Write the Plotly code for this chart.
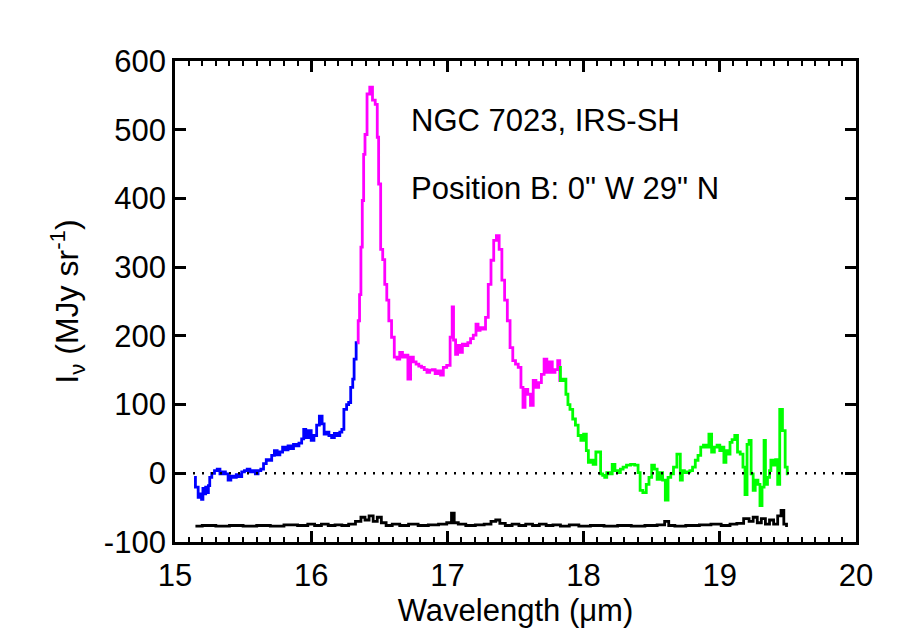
import plotly.graph_objects as go

# ---- data ----
blue_x = [15.14, 15.16, 15.18, 15.19, 15.20, 15.21, 15.22, 15.23, 15.24, 15.25, 15.26, 15.28, 15.30, 15.32,
          15.34, 15.36, 15.38, 15.40, 15.42, 15.44, 15.46, 15.48, 15.50, 15.52, 15.54, 15.56, 15.58, 15.60,
          15.62, 15.64, 15.66, 15.68, 15.70, 15.72, 15.74, 15.76, 15.78, 15.80, 15.82, 15.84, 15.86, 15.88,
          15.90, 15.92, 15.94, 15.95, 15.97, 15.99, 16.01, 16.03, 16.05, 16.07, 16.09, 16.10, 16.12, 16.14,
          16.16, 16.18, 16.20, 16.22, 16.23, 16.25, 16.27, 16.28, 16.30, 16.31, 16.32, 16.34]
blue_y = [-6, -20, -35, -30, -38, -22, -30, -20, -28, -18, -6, 0, 4, 6,
          -1, 2, -1, -10, -4, -6, -2, -5, 2, 4, 6, 2, 4, -1,
          4, 6, 14, 20, 19, 26, 33, 27, 31, 38, 34, 40, 36, 42,
          40, 44, 50, 64, 52, 62, 48, 55, 70, 83, 72, 57, 60, 55,
          52, 58, 55, 60, 64, 93, 100, 103, 125, 137, 166, 190]

mag_x = [16.34, 16.35, 16.36, 16.37, 16.38, 16.39, 16.40, 16.42, 16.44, 16.46, 16.48, 16.49, 16.50, 16.52,
         16.53, 16.55, 16.56, 16.58, 16.60, 16.62, 16.64, 16.66, 16.68, 16.70, 16.72, 16.74, 16.76, 16.78,
         16.80, 16.82, 16.84, 16.86, 16.88, 16.90, 16.92, 16.94, 16.96, 16.98, 17.01, 17.03, 17.04, 17.05,
         17.07, 17.08, 17.10, 17.12, 17.14, 17.16, 17.18, 17.20, 17.22, 17.23, 17.25, 17.27, 17.29, 17.31,
         17.33, 17.35, 17.37, 17.39, 17.41, 17.43, 17.45, 17.47, 17.49, 17.51, 17.53, 17.55, 17.56, 17.58,
         17.60, 17.62, 17.64, 17.66, 17.68, 17.70, 17.72, 17.74, 17.76, 17.78, 17.80, 17.82, 17.83]
mag_y = [190, 222, 260, 329, 397, 464, 493, 552, 562, 543, 537, 489, 421, 326,
         311, 275, 252, 222, 198, 169, 166, 176, 169, 172, 137, 169, 162, 159,
         156, 154, 151, 147, 150, 151, 145, 149, 143, 154, 157, 198, 242, 194,
         173, 186, 176, 188, 186, 190, 196, 201, 217, 208, 212, 210, 227, 275,
         310, 339, 346, 326, 281, 252, 222, 183, 164, 159, 154, 125, 96, 122,
         115, 99, 135, 125, 132, 144, 166, 147, 162, 147, 151, 164, 135]

green_x = [17.82, 17.84, 17.86, 17.88, 17.89, 17.91, 17.93, 17.95, 17.97, 17.99, 18.01, 18.03, 18.04, 18.06,
           18.08, 18.10, 18.12, 18.13, 18.15, 18.16, 18.18, 18.20, 18.22, 18.24, 18.26, 18.28, 18.30, 18.33,
           18.36, 18.39, 18.41, 18.42, 18.45, 18.47, 18.49, 18.51, 18.53, 18.55, 18.57, 18.59, 18.61, 18.63,
           18.65, 18.67, 18.70, 18.72, 18.73, 18.75, 18.77, 18.79, 18.81, 18.83, 18.85, 18.87, 18.89, 18.91,
           18.93, 18.95, 18.97, 18.99, 19.01, 19.02, 19.04, 19.05, 19.07, 19.08, 19.10, 19.12, 19.14, 19.16,
           19.18, 19.19, 19.21, 19.22, 19.24, 19.25, 19.27, 19.29, 19.30, 19.32, 19.33, 19.34, 19.36, 19.37,
           19.38, 19.40, 19.42, 19.43, 19.45, 19.47, 19.49, 19.50]
green_y = [154, 135, 137, 115, 100, 93, 79, 70, 55, 48, 57, 33, 16, 19,
           13, 31, 31, -1, -3, -6, 1, -1, 13, 4, 1, 6, 9, 12,
           13, 12, 1, -25, -28, -16, -6, 12, 6, -9, 1, -10, -39, -6,
           -1, 9, 28, -10, 4, 1, 2, 4, 9, 19, 26, 38, 41, 38,
           57, 31, 38, 41, 33, 38, 16, 33, 28, 45, 49, 55, 31, 28,
           9, -31, 42, 48, -1, -25, -10, -16, -47, -20, 48, -16, -6, 4,
           19, 12, 20, -16, 93, 62, 9, -1]

err_x = [15.15, 15.25, 15.35, 15.45, 15.55, 15.65, 15.75, 15.85, 15.95, 16.00, 16.05, 16.10, 16.15, 16.20,
         16.25, 16.30, 16.35, 16.38, 16.41, 16.44, 16.47, 16.50, 16.53, 16.57, 16.62, 16.68, 16.75, 16.82,
         16.90, 16.97, 17.02, 17.04, 17.06, 17.10, 17.17, 17.24, 17.30, 17.34, 17.37, 17.40, 17.45, 17.50,
         17.55, 17.60, 17.65, 17.70, 17.75, 17.80, 17.86, 17.93, 18.00, 18.10, 18.20, 18.30, 18.40, 18.50,
         18.58, 18.61, 18.64, 18.70, 18.80, 18.90, 18.97, 19.05, 19.10, 19.15, 19.20, 19.23, 19.26, 19.29,
         19.32, 19.35, 19.38, 19.41, 19.44, 19.46, 19.48, 19.50]
err_y = [-77, -76, -77, -76, -77, -76, -77, -75, -76, -74, -76, -74, -76, -75,
         -76, -74, -70, -64, -68, -62, -70, -64, -72, -76, -74, -76, -74, -76,
         -75, -74, -72, -58, -72, -74, -76, -75, -74, -70, -68, -73, -76, -74,
         -76, -74, -76, -74, -76, -75, -77, -75, -77, -76, -77, -76, -77, -76,
         -75, -70, -76, -77, -76, -75, -74, -76, -74, -73, -66, -70, -64, -72,
         -66, -74, -68, -74, -62, -54, -74, -76]

x_ticks = [15, 16, 17, 18, 19, 20]
y_ticks = [-100, 0, 100, 200, 300, 400, 500, 600]
title_lines = ["NGC 7023, IRS-SH", "Position B: 0\" W 29\" N"]

FONT = "Liberation Sans, Arial, Helvetica, sans-serif"

fig = go.Figure()
for xs, ys, col in [(err_x, err_y, "black"), (blue_x, blue_y, "#0000FF"),
                    (mag_x, mag_y, "#FF00FF"), (green_x, green_y, "#00FF00")]:
    fig.add_trace(go.Scatter(x=xs, y=ys, mode="lines",
                             line=dict(color=col, width=2.8, shape="hvh"),
                             showlegend=False, hoverinfo="skip"))

fig.add_shape(type="line", xref="paper", x0=0, x1=1, yref="y", y0=0, y1=0,
              line=dict(color="black", width=2.5, dash="2px,7px"))

fig.add_annotation(x=16.72, y=514, xref="x", yref="y", text=title_lines[0],
                   showarrow=False, xanchor="left", yanchor="middle",
                   font=dict(family=FONT, size=31, color="black"))
fig.add_annotation(x=16.72, y=415, xref="x", yref="y", text=title_lines[1],
                   showarrow=False, xanchor="left", yanchor="middle",
                   font=dict(family=FONT, size=31, color="black"))

axis_common = dict(showline=True, linewidth=2.8, linecolor="black", mirror="ticks",
                   ticks="inside", tickwidth=2.8, tickcolor="black", ticklen=11,
                   showgrid=False, zeroline=False,
                   tickfont=dict(family=FONT, size=31, color="black"))

fig.update_xaxes(range=[15, 20], tickvals=x_ticks, ticktext=[str(v) for v in x_ticks],
                 minor=dict(dtick=0.1, ticks="inside", ticklen=5, tickwidth=2, tickcolor="black"),
                 title=dict(text="Wavelength (\u03bcm)", font=dict(family=FONT, size=31, color="black"),
                            standoff=0),
                 ticklabelstandoff=4,
                 **axis_common)
fig.update_yaxes(range=[-100, 600], tickvals=y_ticks, ticktext=[str(v) for v in y_ticks],
                 title=dict(text="I<sub>\u03bd</sub> (MJy sr<sup>-1</sup>)",
                            font=dict(family=FONT, size=32, color="black"), standoff=16),
                 ticklabelstandoff=0,
                 **axis_common)

fig.update_layout(width=900, height=643,
                  margin=dict(l=167, r=52, t=53, b=109),
                  plot_bgcolor="white", paper_bgcolor="white",
                  font=dict(family=FONT, color="black"))

fig.write_html("out.html")
